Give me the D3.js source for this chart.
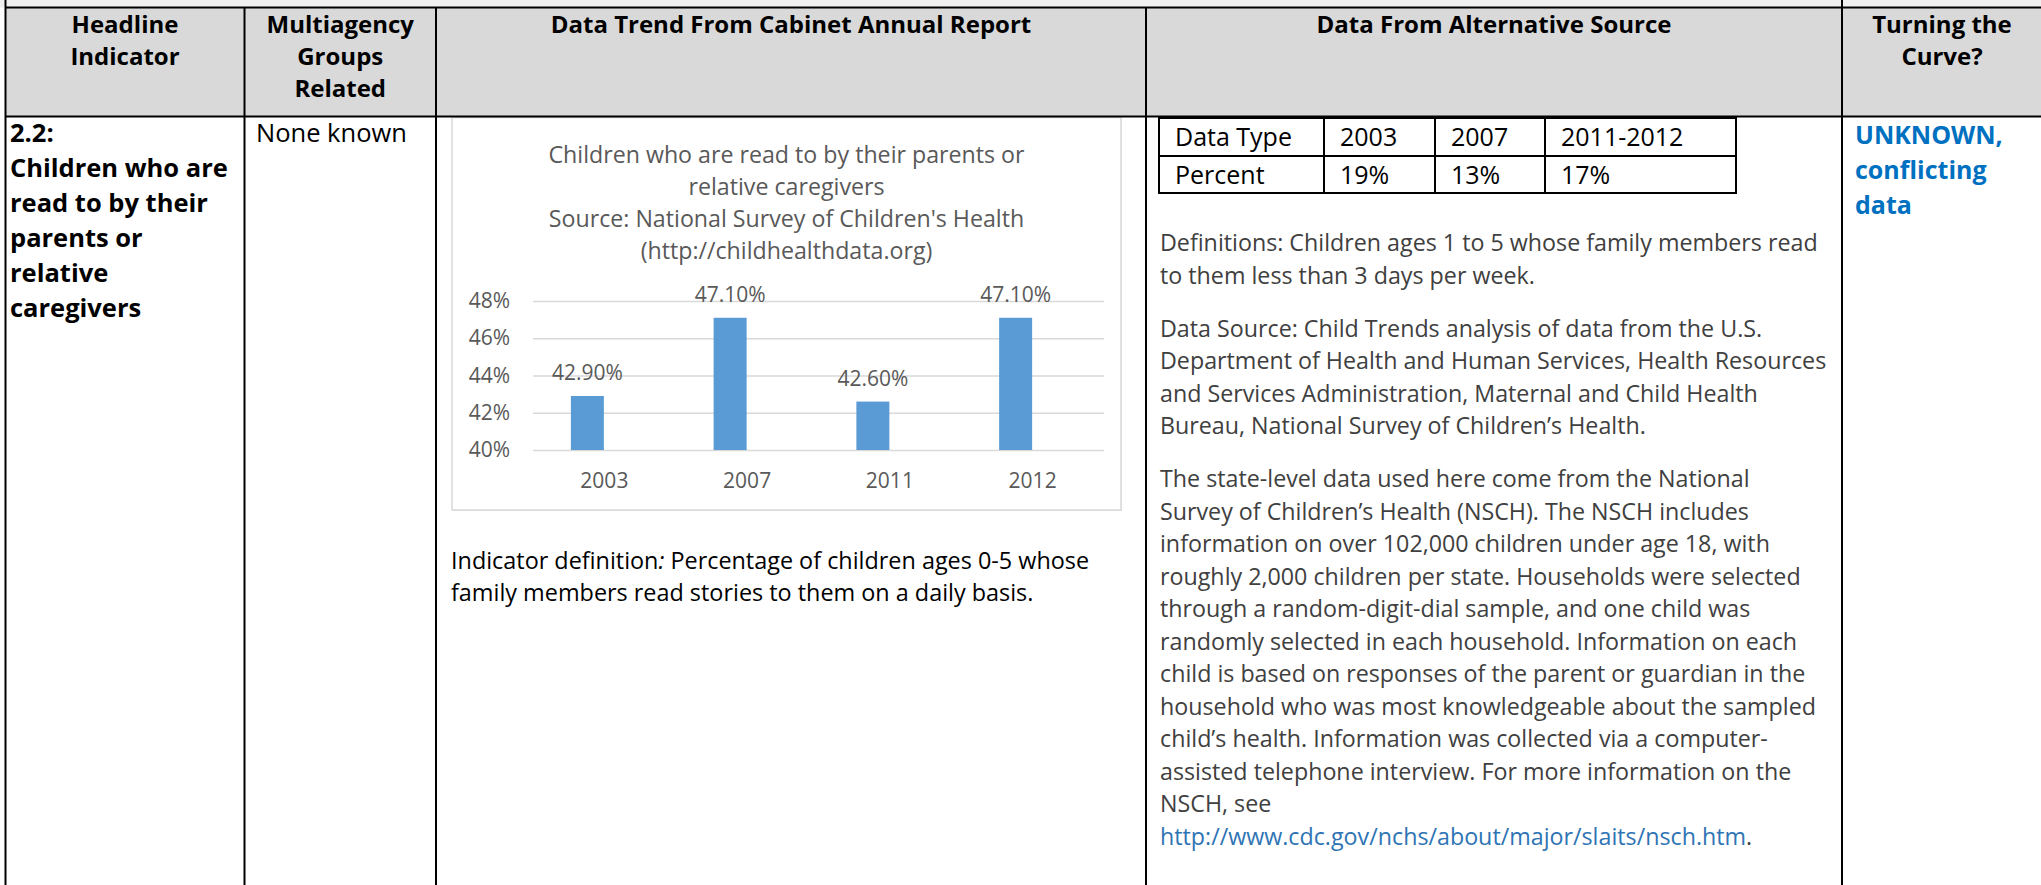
<!DOCTYPE html>
<html>
<head>
<meta charset="utf-8">
<script src="https://cdn.jsdelivr.net/npm/d3@7"></script>
<style>
  body { margin: 0; background: #fff; }
  svg { display: block; font-family: "Open Sans", sans-serif; }
</style>
</head>
<body>
<svg id="page" width="2041" height="885"></svg>
<script>
// ---- data ----
var years = ["2003", "2007", "2011", "2012"];
var readPct = [42.9, 47.1, 42.6, 47.1];
var yTicks = [40, 42, 44, 46, 48];

var altYears = ["2003", "2007", "2011-2012"];
var altPct = ["19%", "13%", "17%"];

var chartTitle = [
  "Children who are read to by their parents or",
  "relative caregivers",
  "Source: National Survey of Children's Health",
  "(http://childhealthdata.org)"
];

var headers = [
  ["Headline", "Indicator"],
  ["Multiagency", "Groups", "Related"],
  ["Data Trend From Cabinet Annual Report"],
  ["Data From Alternative Source"],
  ["Turning the", "Curve?"]
];

var indicatorName = ["2.2:", "Children who are", "read to by their", "parents or", "relative", "caregivers"];
var groupsRelated = ["None known"];
var turning = ["UNKNOWN,", "conflicting", "data"];

var indicatorDef = [
  "Indicator definition: Percentage of children ages 0-5 whose",
  "family members read stories to them on a daily basis."
];

var altParagraphs = [
  ["Definitions: Children ages 1 to 5 whose family members read",
   "to them less than 3 days per week."],
  ["Data Source: Child Trends analysis of data from the U.S.",
   "Department of Health and Human Services, Health Resources",
   "and Services Administration, Maternal and Child Health",
   "Bureau, National Survey of Children\u2019s Health."],
  ["The state-level data used here come from the National",
   "Survey of Children\u2019s Health (NSCH). The NSCH includes",
   "information on over 102,000 children under age 18, with",
   "roughly 2,000 children per state. Households were selected",
   "through a random-digit-dial sample, and one child was",
   "randomly selected in each household. Information on each",
   "child is based on responses of the parent or guardian in the",
   "household who was most knowledgeable about the sampled",
   "child\u2019s health. Information was collected via a computer-",
   "assisted telephone interview. For more information on the",
   "NSCH, see"]
];
var nschLink = "http://www.cdc.gov/nchs/about/major/slaits/nsch.htm";

// ---- page / table frame ----
var W = 2041, H = 885;
var colX = [5.5, 244.5, 436, 1146, 1842, 2042];
var headTop = 7.5, headBottom = 116.5;

var svg = d3.select("#page");
svg.append("rect").attr("width", W).attr("height", H).attr("fill", "#fff");
svg.append("rect").attr("width", W).attr("height", headTop).attr("fill", "#f0f0f0");
svg.append("rect").attr("x", colX[0]).attr("y", headTop)
  .attr("width", W - colX[0]).attr("height", headBottom - headTop).attr("fill", "#d9d9d9");

function writeLines(g, arr, x, y0, lh, size, weight, fill, anchor) {
  g.selectAll(null).data(arr).enter().append("text")
    .attr("x", x)
    .attr("y", function (d, i) { return y0 + i * lh; })
    .attr("text-anchor", anchor || "start")
    .style("font-size", size + "px")
    .style("font-weight", weight)
    .attr("fill", fill)
    .text(function (d) { return d; });
}

// header labels
var head = svg.append("g");
headers.forEach(function (h, i) {
  writeLines(head, h, (colX[i] + colX[i + 1]) / 2, 32.5, 32.4, 24, 700, "#000", "middle");
});

// body cells
var body = svg.append("g");
writeLines(body, indicatorName, 10, 142, 35, 25.5, 700, "#000");
writeLines(body, groupsRelated, 256, 142, 35, 25.5, 400, "#000");
writeLines(body, turning, 1855, 144, 35, 25, 700, "#0070C0");

// indicator definition under the chart
var defText = body.append("g");
defText.append("text").attr("x", 451).attr("y", 569)
  .style("font-size", "23.4px").attr("fill", "#000")
  .call(function (t) {
    t.append("tspan").text("Indicator definition");
    t.append("tspan").style("font-style", "italic").text(":");
    t.append("tspan").text(indicatorDef[0].slice("Indicator definition:".length));
  });
writeLines(defText, indicatorDef.slice(1), 451, 601, 32, 23.4, 400, "#000");

// ---- alternative source table ----
var tblX = [1159, 1324, 1435, 1545, 1736];
var tblY = [118, 156, 193];
var tbl = svg.append("g");
var rowsData = [["Data Type"].concat(altYears), ["Percent"].concat(altPct)];
rowsData.forEach(function (row, r) {
  tbl.selectAll(null).data(row).enter().append("text")
    .attr("x", function (d, c) { return tblX[c] + 16; })
    .attr("y", tblY[r] + 28)
    .style("font-size", "25px")
    .attr("fill", "#000")
    .text(function (d) { return d; });
});
tbl.append("rect").attr("x", tblX[0]).attr("y", tblY[0])
  .attr("width", tblX[4] - tblX[0]).attr("height", tblY[2] - tblY[0])
  .attr("fill", "none").attr("stroke", "#000").attr("stroke-width", 2);
tbl.selectAll(null).data(tblX.slice(1, 4)).enter().append("line")
  .attr("x1", function (d) { return d; }).attr("x2", function (d) { return d; })
  .attr("y1", tblY[0]).attr("y2", tblY[2])
  .attr("stroke", "#000").attr("stroke-width", 2);
tbl.append("line").attr("x1", tblX[0]).attr("x2", tblX[4])
  .attr("y1", tblY[1]).attr("y2", tblY[1])
  .attr("stroke", "#000").attr("stroke-width", 2);

// paragraphs
var para = svg.append("g");
var lineH = 32.5, paraGap = 20.5, yCur = 251;
altParagraphs.forEach(function (p) {
  writeLines(para, p, 1160, yCur, lineH, 23.25, 400, "#404040");
  yCur += p.length * lineH + paraGap;
});
yCur -= paraGap;
para.append("text").attr("x", 1160).attr("y", yCur)
  .style("font-size", "23.25px")
  .call(function (t) {
    t.append("tspan").attr("fill", "#2E74B5").text(nschLink);
    t.append("tspan").attr("fill", "#404040").text(".");
  });

// ---- bar chart ----
var box = { left: 452, right: 1121, top: 117.5, bottom: 510 };
var plot = { left: 533, right: 1104, top: 301, bottom: 450 };
var chart = svg.append("g");
chart.append("rect")
  .attr("x", box.left + 1).attr("y", box.top + 1)
  .attr("width", box.right - box.left).attr("height", box.bottom - box.top)
  .attr("fill", "#e6e6e6");
chart.append("rect")
  .attr("x", box.left).attr("y", box.top)
  .attr("width", box.right - box.left).attr("height", box.bottom - box.top)
  .attr("fill", "#fff").attr("stroke", "#d9d9d9").attr("stroke-width", 1.5);

writeLines(chart, chartTitle, (box.left + box.right) / 2, 163, 32, 23.2, 400, "#595959", "middle");

var xScale = d3.scaleBand().domain(years).range([plot.left, plot.right]);
var yScale = d3.scaleLinear().domain([40, 48]).range([plot.bottom, plot.top]);
var barW = 33, barShift = -17;

var yAxis = d3.axisLeft(yScale)
  .tickValues(yTicks)
  .tickSize(-(plot.right - plot.left))
  .tickPadding(23)
  .tickFormat(function (d) { return d + "%"; });
var gy = chart.append("g")
  .attr("transform", "translate(" + plot.left + ",0)")
  .call(yAxis)
  .attr("font-size", null).attr("font-family", null);
gy.select(".domain").remove();
gy.selectAll(".tick line").attr("stroke", "#d9d9d9").attr("stroke-width", 1.5);
gy.selectAll(".tick text").attr("fill", "#595959").style("font-size", "21px");

var xAxis = d3.axisBottom(xScale).tickSize(0).tickPadding(23);
var gx = chart.append("g")
  .attr("transform", "translate(0," + plot.bottom + ")")
  .call(xAxis)
  .attr("font-size", null).attr("font-family", null);
gx.select(".domain").remove();
gx.selectAll(".tick text").attr("fill", "#595959").style("font-size", "21px");

function barCenter(d) { return xScale(d) + xScale.bandwidth() / 2 + barShift; }

chart.selectAll(".bar").data(years).enter().append("rect")
  .attr("class", "bar")
  .attr("x", function (d) { return barCenter(d) - barW / 2; })
  .attr("y", function (d, i) { return yScale(readPct[i]); })
  .attr("width", barW)
  .attr("height", function (d, i) { return yScale(40) - yScale(readPct[i]); })
  .attr("fill", "#5B9BD5");

chart.selectAll(".lbl").data(years).enter().append("text")
  .attr("class", "lbl")
  .attr("x", barCenter)
  .attr("y", function (d, i) { return yScale(readPct[i]) - 16; })
  .attr("text-anchor", "middle")
  .style("font-size", "21px")
  .attr("fill", "#595959")
  .text(function (d, i) { return readPct[i].toFixed(2) + "%"; });

// ---- grid lines of the outer table (drawn last, on top) ----
var frame = svg.append("g").attr("stroke", "#000").attr("stroke-width", 2);
colX.slice(0, 5).forEach(function (cx, i) {
  frame.append("line").attr("x1", cx).attr("x2", cx)
    .attr("y1", (i === 0 || i === 4) ? 0 : headTop).attr("y2", H);
});
[headTop, headBottom].forEach(function (hy) {
  frame.append("line").attr("x1", colX[0]).attr("x2", W).attr("y1", hy).attr("y2", hy);
});
</script>
</body>
</html>
